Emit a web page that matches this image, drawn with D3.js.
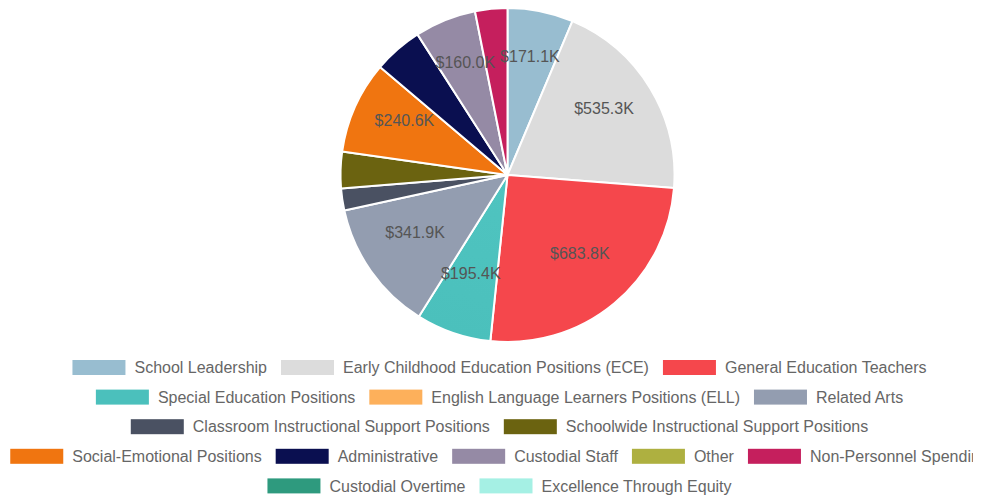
<!DOCTYPE html>
<html>
<head>
<meta charset="utf-8">
<script src="https://cdn.jsdelivr.net/npm/d3@7"></script>
<style>
  html, body { margin: 0; padding: 0; background: #fff; }
  svg { display: block; font-family: "Liberation Sans", Arial, sans-serif; }
</style>
</head>
<body>
<svg id="chart" width="991" height="497"></svg>
<script>
// ---- data ----
const categories = [
  "School Leadership",
  "Early Childhood Education Positions (ECE)",
  "General Education Teachers",
  "Special Education Positions",
  "English Language Learners Positions (ELL)",
  "Related Arts",
  "Classroom Instructional Support Positions",
  "Schoolwide Instructional Support Positions",
  "Social-Emotional Positions",
  "Administrative",
  "Custodial Staff",
  "Other",
  "Non-Personnel Spending",
  "Custodial Overtime",
  "Excellence Through Equity"
];
const values = [171100, 535300, 683800, 195400, 0, 341900, 57000, 95000, 240600, 128000, 160000, 0, 84000, 0, 0];
const colors = ["#98bdd0", "#dcdcdc", "#f5474c", "#4bc0bc", "#fdb05b", "#939db0", "#4a5162",
                "#6b6310", "#f07510", "#0a0f50", "#958aa5", "#aeb040", "#c51f5d", "#2e9a7e", "#a5f0e4"];
const innerColors = ["#98bdd0", "#dcdcdc", "#f5474c", "#4fc4c0", "#fdb05b", "#96a0b3", "#4d5466",
                "#aaa470", "#f59c4c", "#4a5286", "#a89fba", "#aeb040", "#c8285f", "#2e9a7e", "#a5f0e4"];

// ---- layout ----
const W = 991, H = 497;
const cx = 507.5, cy = 175, R = 167;
const svg = d3.select("#chart");
const defs = svg.append("defs");

const pie = d3.pie().sort(null).value(d => d.value);
const data = categories.map((c, i) => ({ name: c, value: values[i], color: colors[i], inner: innerColors[i], i }));
const arcs = pie(data);
const arc = d3.arc().innerRadius(0).outerRadius(R);
const labelArc = d3.arc().innerRadius(113).outerRadius(113);
const total = d3.sum(values);

// gradients: from outer arc midpoint (base color) toward centre (lighter)
arcs.forEach(a => {
  const mid = (a.startAngle + a.endAngle) / 2;
  const g = defs.append("linearGradient")
    .attr("id", "g" + a.data.i)
    .attr("gradientUnits", "userSpaceOnUse")
    .attr("x1", cx + R * Math.sin(mid)).attr("y1", cy - R * Math.cos(mid))
    .attr("x2", cx).attr("y2", cy);
  g.append("stop").attr("offset", "0").attr("stop-color", a.data.color);
  g.append("stop").attr("offset", "1").attr("stop-color", a.data.inner);
});

const gPie = svg.append("g").attr("transform", `translate(${cx},${cy})`);
gPie.selectAll("path")
  .data(arcs.filter(a => a.data.value > 0))
  .join("path")
  .attr("d", arc)
  .attr("fill", d => `url(#g${d.data.i})`)
  .attr("stroke", "#fff")
  .attr("stroke-width", 2)
  .attr("stroke-linejoin", "round");

const fmt = v => "$" + (v / 1000).toFixed(1) + "K";
gPie.selectAll("text.lbl")
  .data(arcs.filter(a => a.data.value / total > 0.05))
  .join("text")
  .attr("class", "lbl")
  .attr("x", d => labelArc.centroid(d)[0])
  .attr("y", d => labelArc.centroid(d)[1] - 8)
  .attr("dy", "0.35em")
  .attr("text-anchor", "middle")
  .attr("font-size", 16)
  .attr("fill", "#555")
  .text(d => fmt(d.data.value));

// ---- legend ----
const boxW = 53, boxH = 15, textGap = 9, itemGap = 14, maxWidth = 990;
const legendCenter = 499.5, rowY0 = 367.5, rowStep = 29.6;
defs.append("clipPath").attr("id", "legclip")
  .append("rect").attr("x", 0).attr("y", 0).attr("width", 973).attr("height", H);
const gLeg = svg.append("g").attr("clip-path", "url(#legclip)");

// measure text widths
const meas = svg.append("text").attr("font-size", 16).attr("visibility", "hidden");
const items = data.map(d => {
  meas.text(d.name);
  const tw = meas.node().getComputedTextLength();
  return { ...d, tw, w: boxW + textGap + tw };
});
meas.remove();

const rows = [];
let cur = [], curW = 0;
items.forEach(it => {
  const add = (cur.length ? itemGap : 0) + it.w;
  if (cur.length && curW + add > maxWidth) { rows.push({ items: cur, w: curW }); cur = []; curW = 0; }
  curW += (cur.length ? itemGap : 0) + it.w;
  cur.push(it);
});
if (cur.length) rows.push({ items: cur, w: curW });

rows.forEach((row, r) => {
  let x = legendCenter - row.w / 2;
  const y = rowY0 + r * rowStep;
  row.items.forEach(it => {
    const g = gLeg.append("g");
    g.append("rect").attr("x", x).attr("y", y - boxH / 2).attr("width", boxW).attr("height", boxH)
      .attr("fill", it.color);
    g.append("text").attr("x", x + boxW + textGap).attr("y", y).attr("dy", "0.35em")
      .attr("font-size", 16).attr("fill", "#666").text(it.name);
    x += it.w + itemGap;
  });
});
</script>
</body>
</html>
